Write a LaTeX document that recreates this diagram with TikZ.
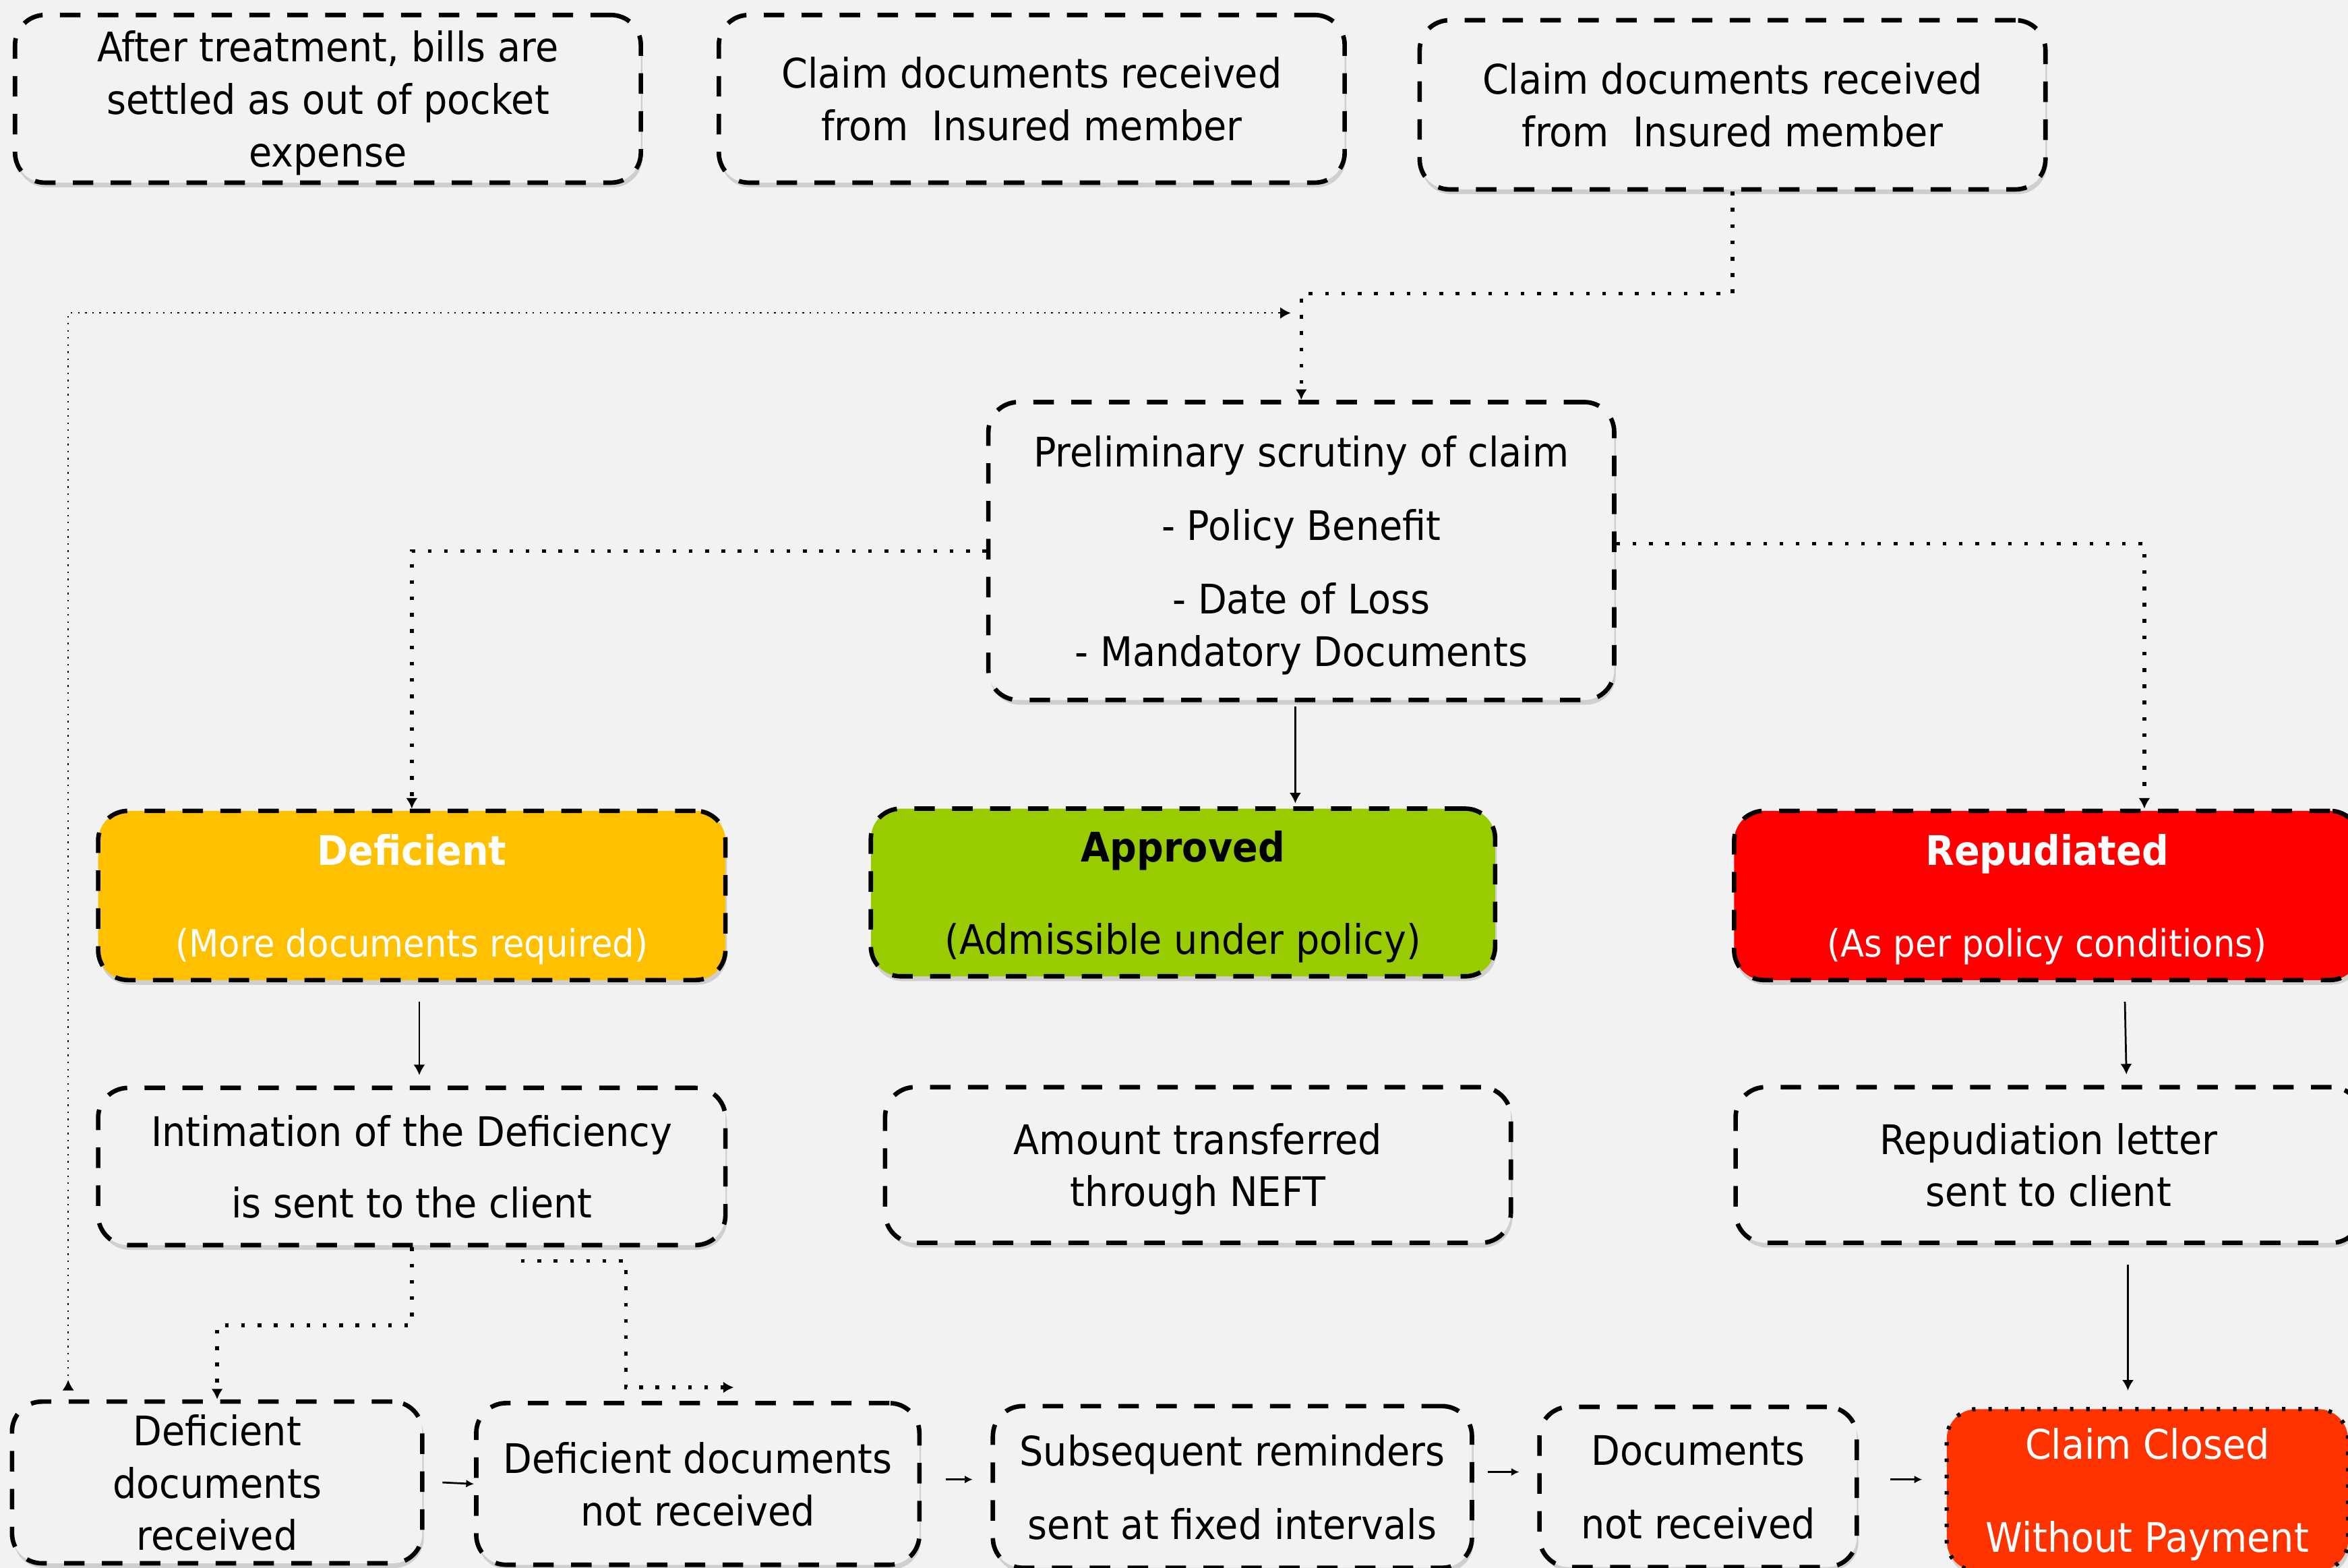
\documentclass[tikz,border=0pt]{standalone}
\usepackage{fontspec}
\setmainfont{DejaVu Sans}[FakeStretch=0.92]
\usepackage{tikz}
\usetikzlibrary{arrows.meta,positioning,calc,shadows}

\definecolor{bggray}{HTML}{F2F2F2}
\definecolor{deforange}{HTML}{FFC000}
\definecolor{apprgreen}{HTML}{99CC00}
\definecolor{repred}{HTML}{FF0000}
\definecolor{closedred}{HTML}{FF3300}
\newcommand{\boxfont}{\fontsize{15.5}{19.9}\selectfont}
\newcommand{\subfont}{\fontsize{14.3}{17.5}\selectfont}

\begin{document}
\begin{tikzpicture}[x=0.02cm,y=-0.02cm,>={Latex[length=4pt,width=4.4pt]},
	box/.style={draw,line width=1.7pt,dash pattern=on 7.8pt off 6.6pt,rounded corners=0.4cm,fill=bggray,align=center,inner sep=2pt,text depth=0pt,font=\boxfont,drop shadow={opacity=0.3,shadow xshift=0.6pt,shadow yshift=-1.8pt}},
	dotline/.style={line width=1.4pt,dash pattern=on 1.4pt off 4.8pt},
	finedot/.style={line width=0.6pt,dash pattern=on 0.6pt off 2.1pt},
	thinline/.style={line width=0.7pt},
	small/.style={thinline,-{Latex[length=3pt,width=3pt]}}]
	\useasboundingbox (0,0) rectangle (1568,1047);
	\fill[bggray] (0,0) rectangle (1568,1047);

	% top row
	\node[box,minimum width=8.36cm,minimum height=2.24cm] (oop) at (219,66) {After treatment, bills are\\settled as out of pocket\\expense};
	\node[box,minimum width=8.36cm,minimum height=2.24cm] (recvA) at (689,66) {Claim documents received\\from\ \ Insured member};
	\node[box,minimum width=8.36cm,minimum height=2.26cm] (recvB) at (1157,70) {Claim documents received\\from\ \ Insured member};

	% scrutiny
	\node[box,minimum width=8.36cm,minimum height=3.98cm] (scrut) at (869,368) {Preliminary scrutiny of claim\\[8pt]- Policy Benefit\\[8pt]- Date of Loss\\- Mandatory Documents};

	% outcomes
	\node[box,fill=deforange,text=white,minimum width=8.38cm,minimum height=2.26cm] (defic) at (275,598) {\textbf{Deficient}\\[14.8pt]{\subfont (More documents required)}};
	\node[box,fill=apprgreen,minimum width=8.34cm,minimum height=2.24cm] (appr) at (790,596) {\textbf{Approved}\\[15.4pt](Admissible under policy)};
	\node[box,fill=repred,text=white,minimum width=8.36cm,minimum height=2.26cm] (repud) at (1367,598) {\textbf{Repudiated}\\[14.8pt]{\subfont (As per policy conditions)}};

	% second row
	\node[box,minimum width=8.38cm,minimum height=2.1cm] (intim) at (275,779) {Intimation of the Deficiency\\[7.4pt]is sent to the client};
	\node[box,minimum width=8.36cm,minimum height=2.08cm] (amount) at (800,778) {Amount transferred\\through NEFT};
	\node[box,minimum width=8.36cm,minimum height=2.08cm] (repl) at (1368,778) {Repudiation letter\\sent to client};

	% bottom row
	\node[box,minimum width=5.48cm,minimum height=2.16cm] (ddr) at (145,990) {Deficient\\documents\\received};
	\node[box,minimum width=5.92cm,minimum height=2.16cm] (ddnr) at (466,991) {Deficient documents\\not received};
	\node[box,minimum width=6.4cm,minimum height=2.16cm] (subs) at (823,993) {Subsequent reminders\\[7.9pt]sent at fixed intervals};
	\node[box,minimum width=4.24cm,minimum height=2.14cm] (docnr) at (1134,993) {Documents\\[7.9pt]not received};
	\node[box,line width=1.6pt,dash pattern=on 1.3pt off 4.9pt,fill=closedred,text=white,minimum width=5.36cm,minimum height=2.16cm] (closed) at (1434,995) {Claim Closed\\[15.4pt]Without Payment};

	% connectors
	\draw[dotline,->] (recvB.south) |- ($(scrut.north)+(0,-71)$) -- (scrut.north);
	\draw[finedot,{Latex[length=4pt,width=4.4pt,reversed]}->] ($(ddr.north west)+(39,-6)$) |- ($(scrut.north)+(-7,-58)$);
	\draw[dotline,->] (scrut.west) -| (defic.north);
	\draw[dotline,->] ($(scrut.east)+(0,-5)$) -| ($(repud.north)+(65,0)$);
	\draw[thinline,->] ($(scrut.south)+(-4,3)$) -- ($(appr.north)+(75,-2)$);
	\draw[thinline,->] ($(defic.south)+(5,13)$) -- ($(intim.north)+(5,-7)$);
	\draw[thinline,->] ($(repud.south)+(52,13)$) -- ($(repl.north)+(52,-7)$);
	\draw[thinline,->] ($(repl.south)+(53,13)$) -- ($(closed.north)+(-13,-11)$);
	\draw[dotline,->] (intim.south) -- ++(0,52) -| (ddr.north);
	\draw[dotline,->] ($(intim.south)+(73,9)$) -- ++(70,0) |- ($(ddnr.north)+(24,-9)$);
	\draw[small] ($(ddr.east)+(12,0)$) -- (ddnr.west);
	\draw[small] ($(ddnr.east)+(16,-3)$) -- ($(subs.west)+(-12,-5)$);
	\draw[small] ($(subs.east)+(9,-10)$) -- ($(docnr.west)+(-12,-10)$);
	\draw[small] ($(docnr.east)+(21,-5)$) -- ($(closed.west)+(-15,-7)$);
\end{tikzpicture}
\end{document}
